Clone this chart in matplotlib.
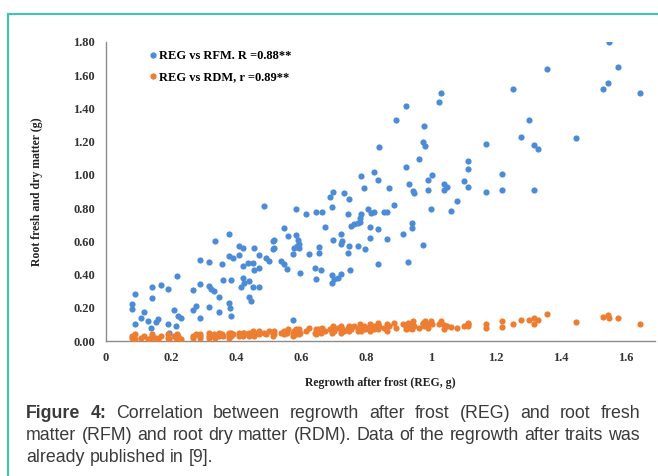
import matplotlib
matplotlib.use('Agg')
import matplotlib.pyplot as plt
from matplotlib.lines import Line2D

# Regrowth after frost (REG, g) - shared x for both series
reg = [0.080, 0.080, 0.089, 0.089, 0.108, 0.117, 0.129, 0.138, 0.142, 0.142,
       0.154, 0.160, 0.169, 0.191, 0.191, 0.194, 0.209, 0.215, 0.218, 0.222,
       0.231, 0.268, 0.268, 0.277, 0.289, 0.289, 0.289, 0.317, 0.317, 0.317,
       0.323, 0.332, 0.335, 0.348, 0.348, 0.357, 0.360, 0.378, 0.378, 0.378,
       0.382, 0.385, 0.385, 0.391, 0.409, 0.409, 0.415, 0.422, 0.422, 0.422,
       0.425, 0.437, 0.440, 0.440, 0.446, 0.452, 0.452, 0.455, 0.455, 0.471,
       0.471, 0.471, 0.486, 0.492, 0.502, 0.514, 0.514, 0.517, 0.517, 0.538,
       0.548, 0.548, 0.557, 0.560, 0.575, 0.575, 0.578, 0.585, 0.585, 0.588,
       0.591, 0.594, 0.594, 0.597, 0.615, 0.625, 0.643, 0.646, 0.646, 0.655,
       0.655, 0.662, 0.665, 0.674, 0.689, 0.695, 0.695, 0.695, 0.698, 0.698,
       0.702, 0.714, 0.723, 0.723, 0.723, 0.726, 0.732, 0.745, 0.745, 0.748,
       0.748, 0.751, 0.754, 0.763, 0.775, 0.775, 0.782, 0.782, 0.785, 0.785,
       0.794, 0.797, 0.806, 0.812, 0.812, 0.815, 0.825, 0.825, 0.837, 0.837,
       0.837, 0.840, 0.855, 0.865, 0.865, 0.871, 0.886, 0.892, 0.914, 0.923,
       0.923, 0.929, 0.932, 0.942, 0.942, 0.945, 0.948, 0.963, 0.975, 0.975,
       0.978, 0.982, 0.991, 0.991, 1.000, 1.003, 1.025, 1.031, 1.040, 1.040,
       1.049, 1.062, 1.080, 1.102, 1.114, 1.114, 1.114, 1.169, 1.169, 1.218,
       1.218, 1.252, 1.277, 1.302, 1.317, 1.317, 1.329, 1.357, 1.446, 1.529,
       1.545, 1.548, 1.575, 1.643]

# Root fresh matter (RFM, g)
rfm = [0.223, 0.193, 0.284, 0.103, 0.139, 0.175, 0.121, 0.079, 0.326, 0.260,
       0.115, 0.133, 0.338, 0.314, 0.103, 0.048, 0.187, 0.091, 0.393, 0.151,
       0.139, 0.308, 0.187, 0.211, 0.489, 0.344, 0.139, 0.477, 0.332, 0.205,
       0.314, 0.302, 0.604, 0.266, 0.175, 0.465, 0.368, 0.646, 0.513, 0.229,
       0.199, 0.368, 0.151, 0.500, 0.574, 0.519, 0.326, 0.562, 0.453, 0.380,
       0.350, 0.471, 0.362, 0.266, 0.242, 0.471, 0.326, 0.562, 0.429, 0.519,
       0.441, 0.326, 0.810, 0.500, 0.483, 0.604, 0.556, 0.610, 0.562, 0.483,
       0.682, 0.465, 0.435, 0.634, 0.525, 0.127, 0.562, 0.797, 0.640, 0.574,
       0.610, 0.586, 0.562, 0.411, 0.767, 0.525, 0.441, 0.779, 0.374, 0.568,
       0.531, 0.429, 0.779, 0.688, 0.864, 0.809, 0.399, 0.350, 0.894, 0.610,
       0.374, 0.380, 0.646, 0.586, 0.405, 0.604, 0.888, 0.767, 0.531, 0.857,
       0.574, 0.429, 0.694, 0.707, 0.713, 0.574, 0.743, 0.719, 0.996, 0.767,
       0.924, 0.556, 0.797, 0.688, 0.622, 0.773, 1.020, 0.779, 0.972, 0.676,
       0.465, 1.165, 0.779, 0.779, 0.616, 0.924, 0.821, 1.329, 0.646, 1.413,
       1.045, 0.477, 0.948, 0.713, 0.682, 0.906, 0.888, 1.093, 1.196, 0.580,
       1.292, 1.171, 0.972, 0.912, 0.797, 1.002, 1.437, 1.492, 0.948, 0.912,
       0.930, 0.785, 0.845, 0.966, 1.081, 1.033, 0.930, 1.184, 0.894, 1.008,
       0.912, 1.516, 1.226, 1.329, 1.178, 0.912, 1.153, 1.636, 1.220, 1.516,
       1.552, 1.800, 1.649, 1.492]

# Root dry matter (RDM, g)
rdm = [0.02, 0.03, 0.01, 0.04, 0.02, 0.03, 0.01, 0.02, 0.04, 0.03,
       0.02, 0.01, 0.03, 0.04, 0.02, 0.01, 0.03, 0.02, 0.04, 0.03,
       0.01, 0.03, 0.02, 0.04, 0.03, 0.02, 0.04, 0.03, 0.05, 0.02,
       0.03, 0.04, 0.02, 0.03, 0.05, 0.04, 0.03, 0.04, 0.02, 0.05,
       0.04, 0.03, 0.05, 0.04, 0.03, 0.05, 0.04, 0.03, 0.05, 0.04,
       0.05, 0.04, 0.03, 0.05, 0.04, 0.06, 0.04, 0.05, 0.03, 0.05,
       0.04, 0.06, 0.05, 0.04, 0.06, 0.05, 0.03, 0.06, 0.04, 0.05,
       0.06, 0.04, 0.05, 0.07, 0.05, 0.03, 0.06, 0.04, 0.07, 0.05,
       0.06, 0.04, 0.07, 0.05, 0.06, 0.08, 0.05, 0.07, 0.04, 0.06,
       0.07, 0.05, 0.08, 0.06, 0.07, 0.05, 0.08, 0.06, 0.07, 0.09,
       0.06, 0.08, 0.07, 0.05, 0.09, 0.07, 0.06, 0.08, 0.07, 0.09,
       0.06, 0.08, 0.07, 0.09, 0.06, 0.08, 0.07, 0.10, 0.06, 0.08,
       0.09, 0.07, 0.08, 0.06, 0.10, 0.08, 0.07, 0.09, 0.11, 0.08,
       0.07, 0.09, 0.08, 0.10, 0.06, 0.09, 0.11, 0.08, 0.10, 0.07,
       0.09, 0.11, 0.08, 0.10, 0.07, 0.12, 0.09, 0.08, 0.10, 0.11,
       0.09, 0.12, 0.08, 0.10, 0.12, 0.10, 0.105, 0.12, 0.095, 0.075,
       0.09, 0.085, 0.08, 0.09, 0.10, 0.11, 0.09, 0.10, 0.08, 0.12,
       0.085, 0.10, 0.127, 0.127, 0.10, 0.14, 0.127, 0.163, 0.115, 0.145,
       0.157, 0.139, 0.139, 0.103]

x_ticks = [0, 0.2, 0.4, 0.6, 0.8, 1.0, 1.2, 1.4, 1.6]
x_tick_labels = ['0', '0.2', '0.4', '0.6', '0.8', '1', '1.2', '1.4', '1.6']
y_ticks = [0.0, 0.2, 0.4, 0.6, 0.8, 1.0, 1.2, 1.4, 1.6, 1.8]

label_rfm = 'REG vs RFM. R =0.88**'
label_rdm = 'REG vs RDM, r =0.89**'
caption_lines = [
    'Figure 4: Correlation between regrowth after frost (REG) and root fresh',
    'matter (RFM) and root dry matter (RDM). Data of the regrowth after traits was',
    'already published in [9].',
]

W, H = 658, 476
blue = '#4C8CD6'
orange = '#ED7D31'
teal = '#3CC5B2'
serif = 'Liberation Serif'
sans = 'Liberation Sans'

fig = plt.figure(figsize=(W / 100, H / 100), dpi=100)

def px(x, y):
    return x / W, 1 - y / H

# plot area in pixels: left 106, right 655, top 42, bottom 341
ax = fig.add_axes([106 / W, 1 - 341 / H, (655 - 106) / W, (341 - 42) / H])
ax.scatter(reg, rfm, s=20, color=blue, linewidths=0, zorder=3)
ax.scatter(reg, rdm, s=20, color=orange, linewidths=0, zorder=3)

ax.set_xlim(0, 1.69)
ax.set_ylim(0, 1.8)
ax.set_xticks(x_ticks)
ax.set_xticklabels(x_tick_labels)
ax.set_yticks(y_ticks)
ax.set_yticklabels(['%.2f' % v for v in y_ticks])
ax.tick_params(length=0, labelsize=9, pad=8)
for lab in ax.get_xticklabels() + ax.get_yticklabels():
    lab.set_fontfamily(serif)
    lab.set_fontweight('bold')
    lab.set_color('#333333')

for s in ['top', 'right']:
    ax.spines[s].set_visible(False)
for s in ['left', 'bottom']:
    ax.spines[s].set_color('#8c8c8c')
    ax.spines[s].set_linewidth(1.0)

ax.set_xlabel('Regrowth after frost (REG, g)', fontsize=8.5, family=serif,
              fontweight='bold', color='#222222')
ax.xaxis.set_label_coords(0.5, -(377 - 341) / 299)
ax.xaxis.label.set_va('top')
ax.set_ylabel('Root fresh and dry matter (g)', fontsize=8.5, family=serif,
              fontweight='bold', color='#222222')
ax.yaxis.set_label_coords(-(106 - 37) / 549, 0.5)
ax.yaxis.label.set_va('center')

handles = [Line2D([], [], marker='o', ls='', color=blue, markersize=3.5),
           Line2D([], [], marker='o', ls='', color=orange, markersize=3.5)]
ax.legend(handles, [label_rfm, label_rdm], loc='upper left',
          bbox_to_anchor=((143 - 106) / 549, (341 - 44) / 299),
          frameon=False, borderpad=0, handlelength=0.6, handletextpad=0.2,
          labelspacing=0.7, prop={'family': serif, 'weight': 'bold', 'size': 9})

# teal frame
fig.add_artist(Line2D([8 / W, 8 / W], [0, 1 - 14 / H], color=teal, lw=1.5))
fig.add_artist(Line2D([8 / W, 1], [1 - 14 / H, 1 - 14 / H], color=teal, lw=1.5))

# caption, justified like the journal layout
renderer = fig.canvas.get_renderer()
cap_left, cap_right = 26, 640
cap_y = [413, 435, 457]

def make_words(line):
    out = []
    for i, w in enumerate(line.split(' ')):
        bold = line.startswith('Figure') and i < 2
        out.append((w, bold))
    return out

def measure(word, bold, fs):
    t = fig.text(0, 0, word, fontsize=fs, family=sans,
                 fontweight='bold' if bold else 'normal')
    w = t.get_window_extent(renderer).width
    t.remove()
    return w

# fit font size so the second line sits naturally across the column
fs = 11.0
sp = fs * 0.278 * 100 / 72
words2 = make_words(caption_lines[1])
nat = sum(measure(w, b, fs) for w, b in words2) + sp * (len(words2) - 1)
fs = fs * (cap_right - cap_left - 4) / nat
sp = fs * 0.278 * 100 / 72

for i, line in enumerate(caption_lines):
    words = make_words(line)
    widths = [measure(w, b, fs) for w, b in words]
    if i < len(caption_lines) - 1:
        gap = (cap_right - cap_left - sum(widths)) / (len(words) - 1)
    else:
        gap = sp
    x = cap_left
    for (w, b), wd in zip(words, widths):
        fig.text(*px(x, cap_y[i]), w, fontsize=fs, family=sans,
                 fontweight='bold' if b else 'normal', color='#3a3a3a',
                 va='center', ha='left')
        x += wd + gap

fig.savefig('out.png', dpi=100)
